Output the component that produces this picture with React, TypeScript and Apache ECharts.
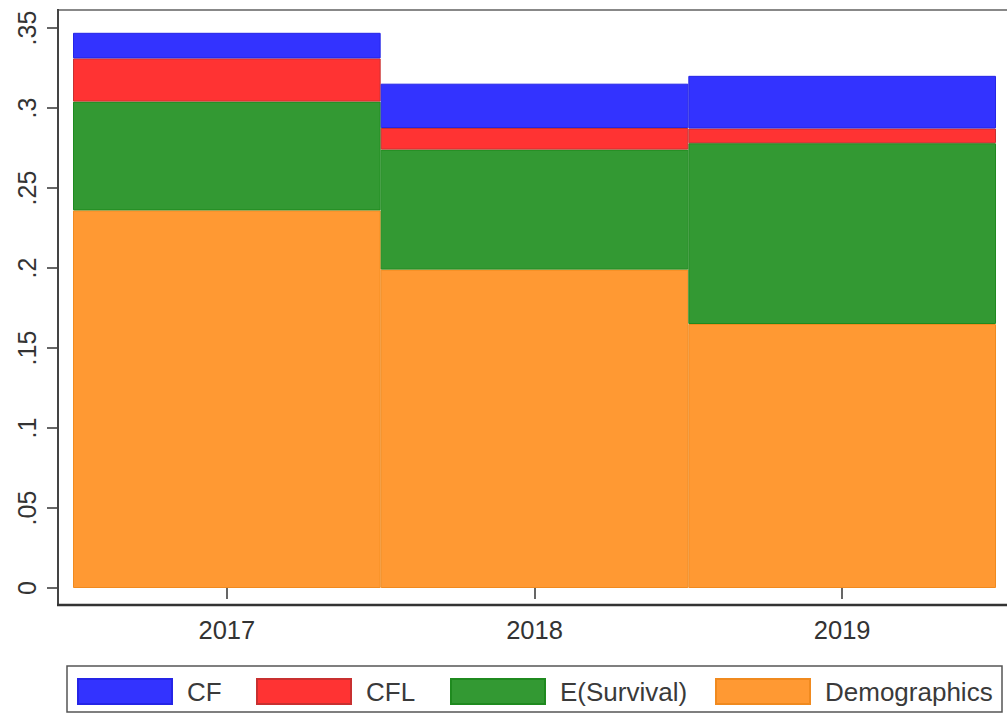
import React, { useEffect, useRef } from "react";
import * as echarts from "echarts";

const categories = ["2017", "2018", "2019"];
const demographics = [0.236, 0.199, 0.165];
const eSurvival = [0.068, 0.075, 0.113];
const cfl = [0.027, 0.0135, 0.0092];
const cf = [0.016, 0.0277, 0.0329];
const yTicks = { min: 0, max: 0.35, interval: 0.05 };

const FONT = "'Liberation Sans', Arial, Helvetica, sans-serif";

export default function App() {
  const ref = useRef<HTMLDivElement>(null);
  useEffect(() => {
    if (!ref.current) return;
    const chart = echarts.init(ref.current, null, { renderer: "svg" });
    const mk = (name: string, data: number[], color: string, border: string, z: number) => ({
      name,
      type: "bar",
      stack: "total",
      data,
      barWidth: "100%",
      barCategoryGap: "0%",
      itemStyle: { color, borderColor: border, borderWidth: 1 },
      z,
    });
    const legendItem = (name: string, left: number) => ({
      data: [name],
      left,
      top: 678,
      padding: 0,
      itemWidth: 94,
      itemHeight: 25,
      selectedMode: false,
      icon: "rect",
      textStyle: { fontSize: 26, color: "#3a3a3a", fontFamily: FONT, padding: [0, 0, 0, 10] },
    });
    chart.setOption({
      animation: false,
      backgroundColor: "#ffffff",
      grid: { left: 73, right: 11, top: 28, bottom: 126, containLabel: false },
      xAxis: {
        type: "category",
        data: categories,
        offset: 17,
        axisLine: { show: false },
        axisTick: { show: true, alignWithLabel: true, length: 11, lineStyle: { color: "#333", width: 1.5 } },
        axisLabel: { fontSize: 25.5, color: "#333", fontFamily: FONT, margin: 12 },
      },
      yAxis: {
        type: "value",
        min: yTicks.min,
        max: yTicks.max,
        interval: yTicks.interval,
        offset: 15,
        splitLine: { show: false },
        axisLine: { show: false },
        axisTick: { show: true, length: 11, lineStyle: { color: "#333", width: 1.5 } },
        axisLabel: {
          rotate: 90,
          fontSize: 25,
          color: "#333",
          fontFamily: FONT,
          margin: 19,
          formatter: (v: number) =>
            v === 0 ? "0" : v.toFixed(2).replace(/0+$/, "").replace(/^0/, ""),
        },
      },
      legend: [
        legendItem("CF", 77),
        legendItem("CFL", 256),
        legendItem("E(Survival)", 450),
        legendItem("Demographics", 715),
      ],
      graphic: [
        { type: "rect", shape: { x: 67, y: 666, width: 935, height: 46 }, style: { fill: "none", stroke: "#555", lineWidth: 1.5 }, z: 0 },
        { type: "line", shape: { x1: 58, y1: 10, x2: 1007, y2: 10 }, style: { stroke: "#888", lineWidth: 2 }, z: 10 },
        { type: "line", shape: { x1: 58, y1: 9, x2: 58, y2: 606 }, style: { stroke: "#444", lineWidth: 2 }, z: 10 },
        { type: "line", shape: { x1: 57, y1: 605, x2: 1007, y2: 605 }, style: { stroke: "#333", lineWidth: 2.5 }, z: 10 },
      ],
      series: [
        mk("Demographics", demographics, "#ff9933", "#f08a1f", 2),
        mk("E(Survival)", eSurvival, "#339933", "#1f8a1f", 2),
        mk("CFL", cfl, "#ff3333", "#c83030", 2),
        mk("CF", cf, "#3333ff", "#2525e6", 2),
      ],
    });
    return () => chart.dispose();
  }, []);
  return (
    <div
      ref={ref}
      style={{ position: "fixed", left: 0, top: 0, width: 1007, height: 714, background: "#fff" }}
    />
  );
}
